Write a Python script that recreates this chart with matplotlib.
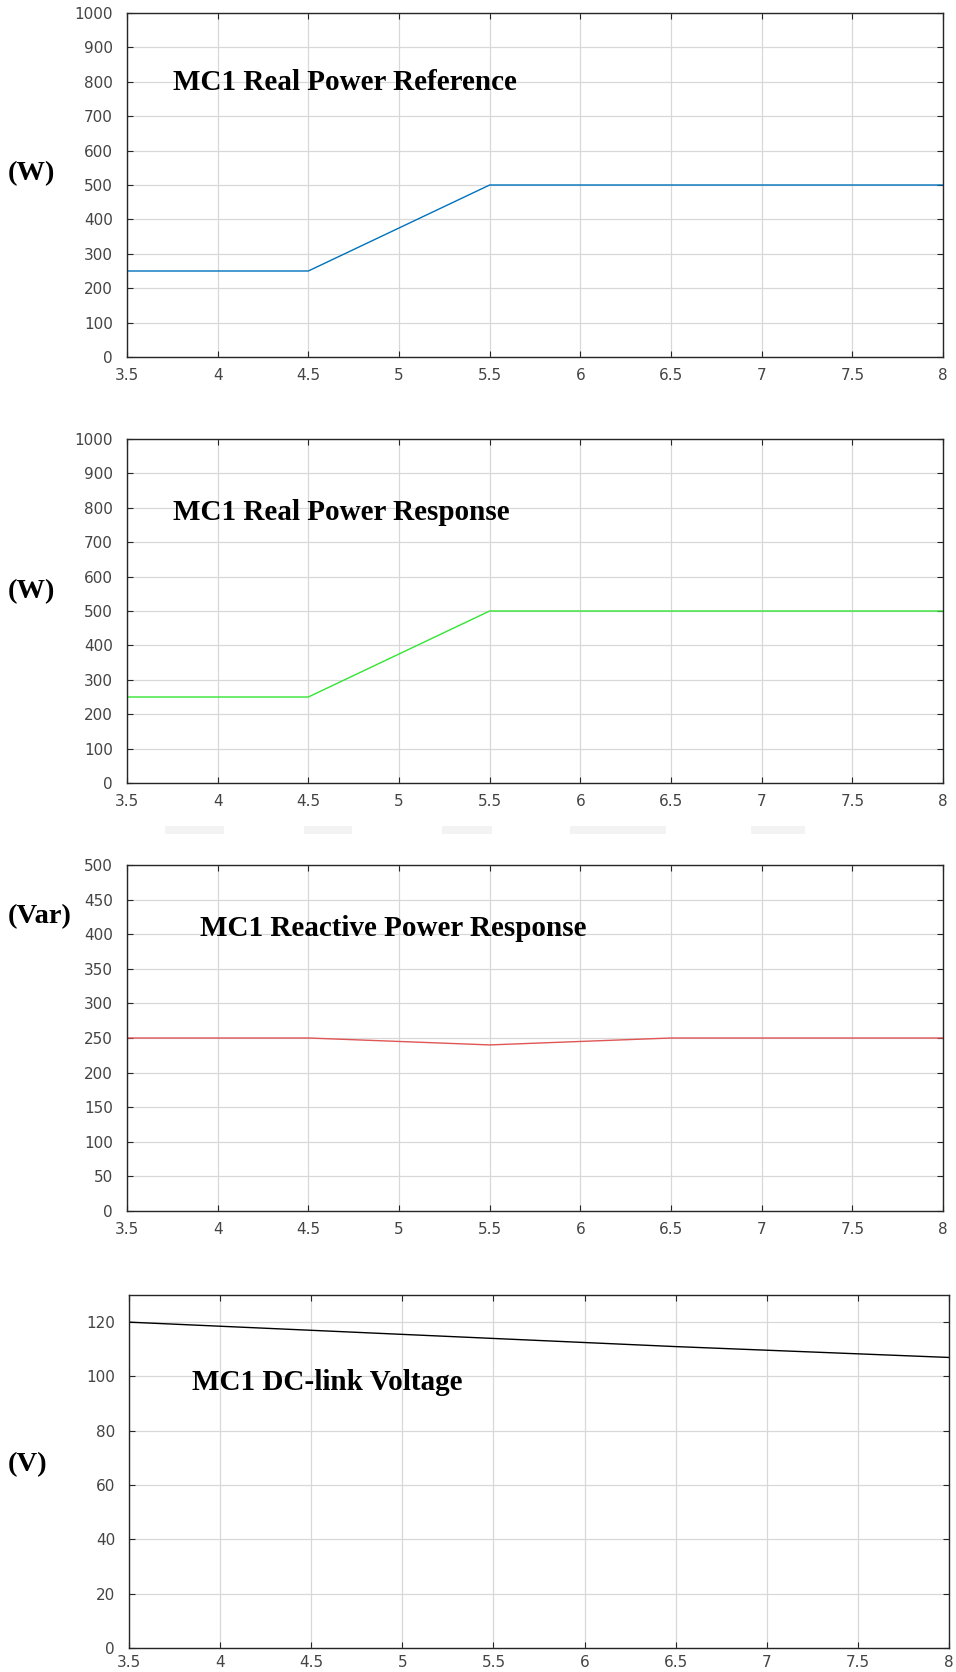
import matplotlib
matplotlib.use("Agg")
import matplotlib.pyplot as plt
from matplotlib.patches import Rectangle

# time axis (s)
t_ref = [3.5, 4.5, 5.5, 8.0]
p_ref = [250, 250, 500, 500]

t_resp = [3.5, 4.5, 5.5, 8.0]
p_resp = [250, 250, 500, 500]

t_q = [3.5, 4.5, 5.5, 6.5, 8.0]
q_resp = [250, 250, 240, 250, 250]

t_dc = [3.5, 4.5, 5.5, 6.5, 8.0]
v_dc = [120, 117, 114, 111, 107]

xticks = [3.5, 4, 4.5, 5, 5.5, 6, 6.5, 7, 7.5, 8]
xlabels = ["3.5", "4", "4.5", "5", "5.5", "6", "6.5", "7", "7.5", "8"]

W, H = 956, 1672
fig = plt.figure(figsize=(W / 100, H / 100), dpi=100)

def box(l, r, t, b):
    return [l / W, 1 - b / H, (r - l) / W, (b - t) / H]

panels = [
    (box(127, 943, 13, 357), t_ref, p_ref, "#0072BD", (0, 1000), range(0, 1001, 100),
     "MC1 Real Power Reference", (173, 83), "(W)", 174, 8),
    (box(127, 943, 439, 783), t_resp, p_resp, "#33e533", (0, 1000), range(0, 1001, 100),
     "MC1 Real Power Response", (173, 513), "(W)", 592, 8),
    (box(127, 943, 865, 1211), t_q, q_resp, "#e05555", (0, 500), range(0, 501, 50),
     "MC1 Reactive Power Response", (200, 929), "(Var)", 917, 8),
    (box(129, 949, 1295, 1648), t_dc, v_dc, "black", (0, 130), range(0, 121, 20),
     "MC1 DC-link Voltage", (192, 1382), "(V)", 1465, 5),
]

for rect, x, y, col, ylim, yt, title, tpos, unit, uy, xpad in panels:
    ax = fig.add_axes(rect)
    ax.plot(x, y, color=col, lw=1.0)
    ax.set_xlim(3.5, 8)
    ax.set_ylim(*ylim)
    ax.set_xticks(xticks)
    ax.set_xticklabels(xlabels)
    ax.set_yticks(list(yt))
    ax.grid(True, color="#d8d8d8", lw=0.9)
    ax.tick_params(direction="in", top=True, right=True, length=4,
                   labelsize=11, labelcolor="#444444", color="#262626")
    ax.tick_params(axis="x", pad=xpad)
    ax.tick_params(axis="y", pad=10)
    for lab in ax.get_xticklabels() + ax.get_yticklabels():
        lab.set_family("DejaVu Sans")
    for s in ax.spines.values():
        s.set_color("#262626")
        s.set_linewidth(1.0)
    fig.text(tpos[0] / W, 1 - tpos[1] / H, title, family="Liberation Serif",
             weight="bold", fontsize=21, ha="left", va="center")
    fig.text(8 / W, 1 - uy / H, unit, family="Liberation Serif",
             weight="bold", fontsize=20.5, ha="left", va="center")

# faint watermark bars between the second and third panels
for l, r in [(165, 224), (304, 352), (442, 492), (570, 666), (751, 805)]:
    fig.patches.append(Rectangle((l / W, 1 - 834 / H), (r - l) / W, 8 / H,
                                 transform=fig.transFigure, color="#f3f3f3", lw=0))

fig.savefig("out.png", dpi=100)
